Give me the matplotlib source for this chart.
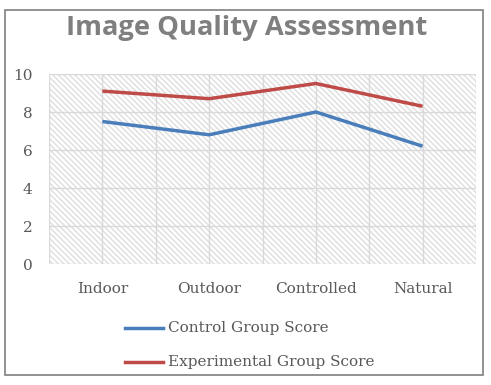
import matplotlib
matplotlib.use("Agg")
import matplotlib.pyplot as plt
from matplotlib.patches import Rectangle
from matplotlib.lines import Line2D

categories = ["Indoor", "Outdoor", "Controlled", "Natural"]
control = [7.5, 6.8, 8.0, 6.2]
experimental = [9.1, 8.7, 9.5, 8.3]
yticks = [0, 2, 4, 6, 8, 10]

matplotlib.rcParams['hatch.linewidth'] = 1.0
matplotlib.rcParams['hatch.color'] = "#dedede"

W, H = 491, 385
fig = plt.figure(figsize=(W/100, H/100), dpi=100)

# outer border
fig.patches.append(Rectangle((5/W, 10/H), 478/W, 365/H, transform=fig.transFigure,
                             fill=False, edgecolor="#7f7f7f", linewidth=1.2))

ax = fig.add_axes([49/W, 1-264/H, (476-49)/W, (264-74)/H])
ax.set_xlim(-0.5, 3.5)
ax.set_ylim(0, 10)
# hatch background
ax.add_patch(Rectangle((0, 0), 1, 1, transform=ax.transAxes, facecolor="white",
                       edgecolor="#dedede", hatch="\\" * 6, linewidth=0, zorder=0))
for x in [-0.5, 0, 0.5, 1, 1.5, 2, 2.5, 3, 3.5]:
    ax.axvline(x, color="#d9d9d9", linewidth=1, zorder=1)
for y in yticks:
    ax.axhline(y, color="#d9d9d9", linewidth=1, zorder=1)
for s in ax.spines.values():
    s.set_visible(False)

xs = range(len(categories))
ax.plot(xs, control, color="#4a7ebb", linewidth=2.5, zorder=3, solid_capstyle="butt")
ax.plot(xs, experimental, color="#be4b48", linewidth=2.5, zorder=3, solid_capstyle="butt")

ax.set_xticks(list(xs))
ax.set_xticklabels(categories)
ax.set_yticks(yticks)
ax.tick_params(length=0, labelsize=11, labelcolor="#595959")
ax.tick_params(axis="x", pad=13)
ax.tick_params(axis="y", pad=12)
for lbl in ax.get_xticklabels() + ax.get_yticklabels():
    lbl.set_family("DejaVu Serif")

fig.text(247/W, 1-28/H, "Image Quality Assessment", ha="center", va="center",
         fontsize=19.7, fontweight="bold", color="#7f7f7f", family="Open Sans")

# legend
for yy, col, lab in [(328, "#4a7ebb", "Control Group Score"), (362, "#be4b48", "Experimental Group Score")]:
    fig.add_artist(Line2D([125/W, 163/W], [1-yy/H, 1-yy/H], color=col, linewidth=2.5,
                          transform=fig.transFigure))
    fig.text(168/W, 1-yy/H, lab, ha="left", va="center", fontsize=11,
             color="#595959", family="DejaVu Serif")

fig.savefig("out.png", dpi=100)
